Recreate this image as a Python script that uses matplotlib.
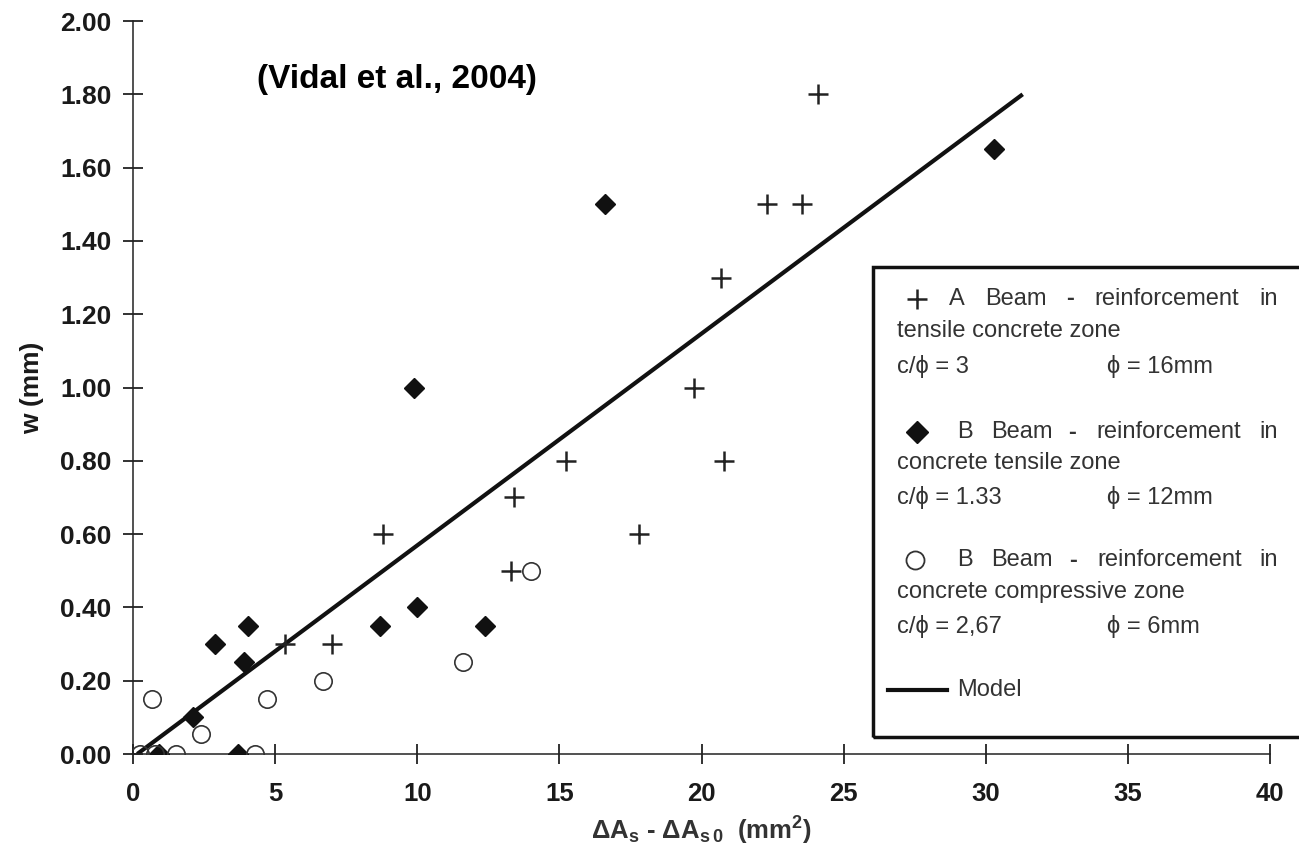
import matplotlib
matplotlib.use("Agg")
from matplotlib import pyplot as plt
from matplotlib.lines import Line2D
from matplotlib.patches import Rectangle

plt.rcParams['font.family'] = ['Liberation Sans', 'DejaVu Sans']
plt.rcParams['mathtext.fontset'] = 'custom'
plt.rcParams['mathtext.rm'] = 'Liberation Sans:bold'
plt.rcParams['mathtext.it'] = 'Liberation Sans:bold'
plt.rcParams['mathtext.bf'] = 'Liberation Sans:bold'

# A beam, reinforcement in tensile zone (+)
a_x = [24.1, 22.3, 23.55, 20.7, 19.75, 20.8, 15.25, 13.4, 17.8, 8.8, 13.3, 5.35, 7.0]
a_y = [1.80, 1.50, 1.50, 1.30, 1.00, 0.80, 0.80, 0.70, 0.60, 0.60, 0.50, 0.30, 0.30]

# B beam, reinforcement in tensile zone (filled diamonds)
bt_x = [30.3, 16.6, 9.9, 10.0, 8.7, 12.4, 4.05, 2.9, 3.9, 2.1, 0.93, 3.7]
bt_y = [1.65, 1.50, 1.00, 0.40, 0.35, 0.35, 0.35, 0.30, 0.25, 0.10, 0.00, 0.00]

# B beam, reinforcement in compressive zone (open circles)
bc_x = [14.0, 11.6, 6.7, 4.7, 0.66, 2.4, 0.25, 0.77, 1.5, 4.3]
bc_y = [0.50, 0.25, 0.20, 0.15, 0.15, 0.055, 0.00, 0.00, 0.00, 0.00]

# model line end points
model_x = [0.15, 31.3]
model_y = [0.0, 1.80]

x_ticks = [0, 5, 10, 15, 20, 25, 30, 35, 40]
y_ticks = [0.0, 0.2, 0.4, 0.6, 0.8, 1.0, 1.2, 1.4, 1.6, 1.8, 2.0]

W, H = 1299, 859
fig = plt.figure(figsize=(W / 100, H / 100), dpi=100)
ax = fig.add_axes([133 / W, 1 - 754 / H, (1270 - 133) / W, (754 - 21) / H])


def fpos(x, y):
    """pixel position (from top left) -> figure fraction"""
    return x / W, 1 - y / H


ax.plot(model_x, model_y, color='#111111', lw=3, solid_capstyle='butt', zorder=2)
ax.plot(a_x, a_y, ls='none', marker='+', ms=15, mew=1.8, color='#222222', zorder=3)
ax.plot(bt_x, bt_y, ls='none', marker='D', ms=10.5, color='#111111', zorder=3)
ax.plot(bc_x, bc_y, ls='none', marker='o', ms=12.5, mew=1.2, mec='#333333',
        mfc='none', zorder=3)

ax.set_xlim(0, 40)
ax.set_ylim(0, 2.0)
ax.set_xticks(x_ticks)
ax.set_yticks(y_ticks)
ax.set_yticklabels(['%.2f' % v for v in y_ticks])
for s in ['top', 'right']:
    ax.spines[s].set_visible(False)
for s in ['left', 'bottom']:
    ax.spines[s].set_linewidth(1.1)
    ax.spines[s].set_color('#222222')
ax.tick_params(direction='inout', length=15, width=1.3, colors='#222222')
ax.tick_params(axis='y', pad=8, labelsize=19)
ax.tick_params(axis='x', pad=13, labelsize=18.5)
for lab in ax.get_xticklabels() + ax.get_yticklabels():
    lab.set_fontweight('bold')
    lab.set_color('#1a1a1a')

ax.set_ylabel('w (mm)', fontsize=19, fontweight='bold', color='#1a1a1a')
ax.yaxis.set_label_coords((44 - 133) / (1270 - 133), 0.5)
ax.set_xlabel('ΔA$_\\mathrm{s}$ - ΔA$_\\mathrm{s\\,0}$  (mm$^2$)', fontsize=18.5,
              fontweight='bold', color='#333333', labelpad=6)

ax.text(4.35, 1.84, '(Vidal et al., 2004)', fontsize=24, fontweight='bold',
        ha='left', va='center', color='black')

# legend box, drawn by hand (it runs off the right edge)
x0, y0 = fpos(873, 737)
x1, y1 = fpos(1310, 267)
fig.add_artist(Rectangle((x0, y0), x1 - x0, y1 - y0, transform=fig.transFigure,
                         fill=False, lw=2.5, ec='#111111', clip_on=False))

tc = '#333333'
fs = 17


def ftext(x, y, s, ha='left', **kw):
    fx, fy = fpos(x, y)
    fig.text(fx, fy, s, fontsize=fs, color=tc, ha=ha, va='center', **kw)


def fmark(x, y, **kw):
    fx, fy = fpos(x, y)
    fig.add_artist(Line2D([fx], [fy], transform=fig.transFigure, ls='none', **kw))


rows = [(299, 949, 'A', 1094), (432, 957, 'B', 1096), (560, 957, 'B', 1097)]
for (yy, xl, letter, xr) in rows:
    ftext(xl, yy, letter)
    ftext(xl + 36 if letter == 'A' else xl + 34, yy, 'Beam')
    ftext(xr - 24, yy, '-', ha='center', fontweight='bold')
    ftext(xr, yy, 'reinforcement')
    ftext(1259, yy, 'in')

fmark(917, 299, marker='+', ms=15, mew=1.8, color='#222222')
fmark(917, 432, marker='D', ms=11, color='#111111')
fmark(915, 560, marker='o', ms=13, mew=1.3, mec='#333333', mfc='none')

ftext(897, 331, 'tensile concrete zone')
ftext(897, 366, 'c/ϕ = 3')
ftext(1107, 366, 'ϕ = 16mm')
ftext(897, 463, 'concrete tensile zone')
ftext(897, 497, 'c/ϕ = 1.33')
ftext(1107, 497, 'ϕ = 12mm')
ftext(897, 592, 'concrete compressive zone')
ftext(897, 626, 'c/ϕ = 2,67')
ftext(1107, 626, 'ϕ = 6mm')

lx0, ly = fpos(888, 690)
lx1, _ = fpos(947, 690)
fig.add_artist(Line2D([lx0, lx1], [ly, ly], transform=fig.transFigure,
                      color='#111111', lw=3))
ftext(957, 690, 'Model')

fig.savefig('out.png', dpi=100)
